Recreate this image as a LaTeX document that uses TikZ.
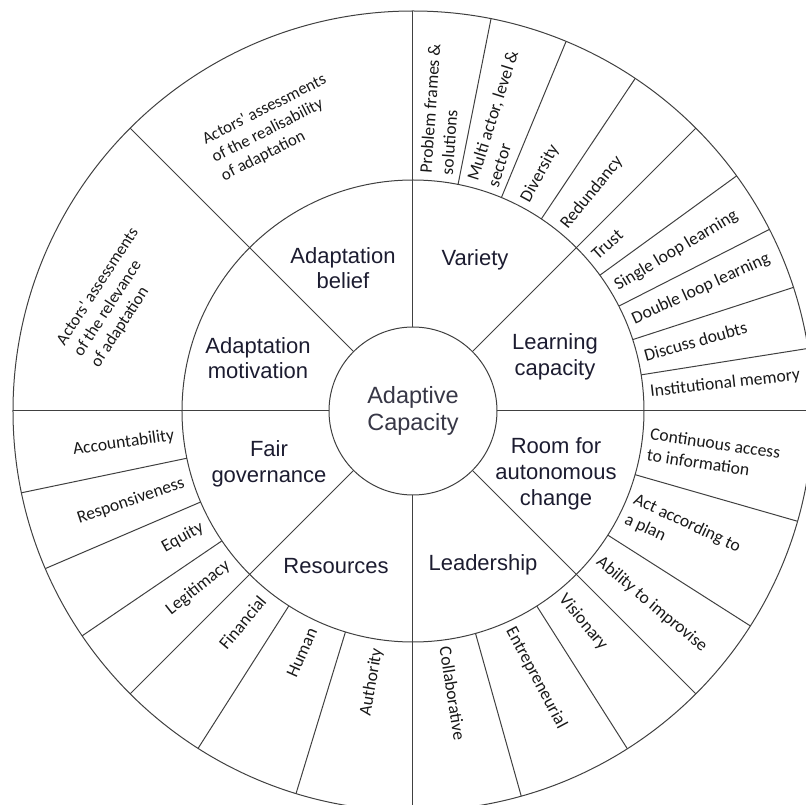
\documentclass[tikz,border=0pt]{standalone}
\usepackage{fontspec}
\setmainfont{Liberation Sans}
\newfontfamily\critfont{Carlito}

\definecolor{dimtext}{RGB}{28,28,48}
\definecolor{coretext}{RGB}{55,55,70}

\tikzset{
    wheel/.style={draw=black!75, line width=1pt},
    dimlabel/.style={font=\fontsize{22}{25.7}\selectfont, text=dimtext, align=center, inner sep=0pt},
    critlabel/.style={font=\critfont\fontsize{17.6}{21.5}\selectfont, text=black!90, inner sep=0pt},
    biglabel/.style={font=\critfont\fontsize{16.8}{20.5}\selectfont, text=black!90, align=left, anchor=west, inner sep=0pt}
}

\begin{document}
\begin{tikzpicture}[x=1pt, y=1pt]
    \clip (-413,-394) rectangle (393,411);

    % rings
    \draw[wheel] (0,0) circle (400);
    \draw[wheel] (0,0) circle (231);

    % borders between the dimensions
    \foreach \a in {0,45,...,315}
        \draw[wheel] (\a:84) -- (\a:400);

    % borders between the criteria
    \foreach \a in {56.25,67.5,78.75, 9,18,27,36, -16,-32.5, -57.6,-74.3, 237.5,253, 191.8,203.2,214.2}
        \draw[wheel] (\a:231) -- (\a:400);

    % core
    \draw[wheel, fill=white] (0,0) circle (84);
    \node[font=\fontsize{23.5}{27}\selectfont, text=coretext, align=center, inner sep=0pt] (core) at (0,0) {Adaptive\\Capacity};

    % dimensions
    \node[dimlabel] (belief) at (-70,143) {Adaptation\\belief};
    \node[dimlabel] (variety) at (62,151) {Variety};
    \node[dimlabel] (learning) at (142,54) {Learning\\capacity};
    \node[dimlabel] (motivation) at (-155,53) {Adaptation\\motivation};
    \node[dimlabel] (governance) at (-144,-53) {Fair\\governance};
    \node[dimlabel] (resources) at (-77,-155) {Resources};
    \node[dimlabel] (leadership) at (70,-154) {Leadership};
    \node[dimlabel] (room) at (143,-63) {Room for\\autonomous\\change};

    % criteria, right half (read outwards)
    \foreach \p/\r/\txt [count=\i] in {
        84.4/86/{Problem frames \&\\solutions},
        73.1/72.5/{Multi actor, level \&\\sector},
        61.9/61.5/Diversity,
        50.6/51/Redundancy,
        40.5/42/Trust,
        31.5/31/Single loop learning,
        22.5/24.5/Double loop learning,
        13.5/15.5/Discuss doubts,
        4.5/6.5/Institutional memory,
        -8/-8.5/{Continuous access\\to information},
        -24.3/-25/{Act according to\\a plan},
        -38.75/-40/Ability to improvise,
        -51.3/-50/Visionary,
        -66/-62/Entrepreneurial,
        -82.2/-81/Collaborative}
        \node[critlabel, anchor=west, align=left, rotate=\r] (critR\i) at (\p:238) {\txt};

    % criteria, left half (read inwards)
    \foreach \p/\r/\txt [count=\i] in {
        261.5/80/Authority,
        245.25/66/Human,
        231.25/50/Financial,
        219.6/38.5/Legitimacy,
        208.7/29/Equity,
        197.5/18.5/Responsiveness,
        185.9/8/Accountability}
        \node[critlabel, anchor=east, align=right, rotate=\r] (critL\i) at (\p:240) {\txt};

    % single criterion per dimension
    \node[biglabel, rotate=27] (realisability) at (-200,252) {Actors' assessments\\of the realisability\\of adaptation};
    \node[biglabel, rotate=57] (relevance) at (-335,56) {Actors' assessments\\of the relevance\\of adaptation};
\end{tikzpicture}
\end{document}
